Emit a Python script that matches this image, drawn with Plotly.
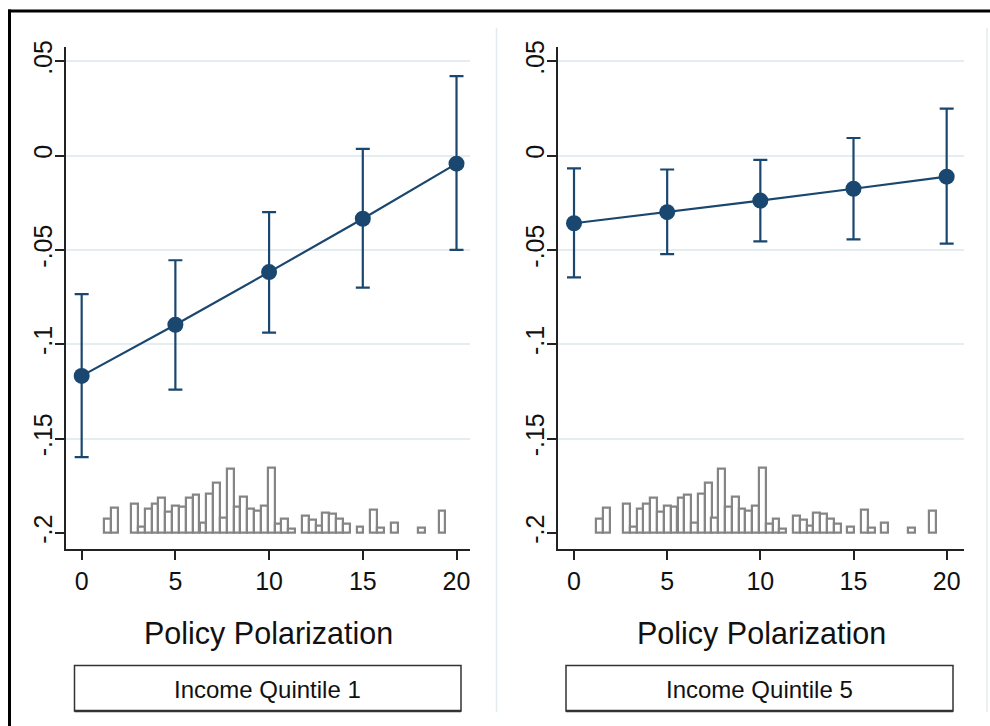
import plotly.graph_objects as go

# ---------------- data ----------------
x_vals = [0, 5, 10, 15, 20]

q1_est = [-0.1168, -0.0897, -0.0618, -0.0335, -0.0043]
q1_hi = [-0.0735, -0.0555, -0.0300, 0.0035, 0.0421]
q1_lo = [-0.1599, -0.1241, -0.0939, -0.0700, -0.0500]

q5_est = [-0.0359, -0.0300, -0.0239, -0.0176, -0.0112]
q5_hi = [-0.0068, -0.0074, -0.0023, 0.0093, 0.0249]
q5_lo = [-0.0646, -0.0523, -0.0455, -0.0444, -0.0467]

# histogram of policy polarization (bin centres, percent of observations)
hist_centers = [1.36, 1.73, 2.82, 3.19, 3.55, 3.91, 4.28, 4.64, 5.01, 5.37,
                5.74, 6.10, 6.47, 6.83, 7.20, 7.56, 7.93, 8.29, 8.65, 9.02,
                9.38, 9.75, 10.11, 10.48, 10.84, 11.21, 11.94, 12.30, 12.67,
                13.03, 13.40, 13.76, 14.12, 14.85, 15.58, 15.95, 16.68, 18.13,
                19.23]
hist_pct = [1.46, 2.50, 2.90, 0.66, 2.46, 2.90, 3.60, 2.10, 2.70, 2.60,
            3.56, 3.86, 1.06, 3.96, 5.10, 1.56, 6.46, 2.60, 3.70, 2.40,
            2.23, 2.70, 6.56, 0.90, 1.40, 0.40, 1.70, 1.30, 0.70,
            2.00, 1.90, 1.46, 0.96, 0.60, 2.30, 0.56, 1.00, 0.56,
            2.20]
bin_width = 0.3646

y_tickvals = [-0.2, -0.15, -0.1, -0.05, 0, 0.05]
y_ticktext = ["-.2", "-.15", "-.1", "-.05", "0", ".05"]
grid_vals = [-0.15, -0.1, -0.05, 0, 0.05]
x_tickvals = [0, 5, 10, 15, 20]

panel_labels = ["Income Quintile 1", "Income Quintile 5"]
x_title = "Policy Polarization"

# ---------------- style ----------------
W, H = 990, 726
FONT = "Liberation Sans, Arial, Helvetica, sans-serif"
NAVY = "#1a476f"
GRID = "#e4edf0"
AX = "#222222"
HIST = "#858585"

def px(v):
    return v / W

def py(v):
    return (H - v) / H

y_range = [-0.2088, 0.0577]
hist_range = [-1.67, 49.03]
y_dom = [py(548), py(41)]
panels = [
    dict(dom=[px(66), px(470)], xr=[-0.836, 20.72], est=q1_est, hi=q1_hi, lo=q1_lo,
         box=(74.5, 461)),
    dict(dom=[px(558), px(964)], xr=[-0.859, 20.93], est=q5_est, hi=q5_hi, lo=q5_lo,
         box=(566, 953)),
]

fig = go.Figure()
layout = dict(width=W, height=H, autosize=False,
              margin=dict(l=0, r=0, t=0, b=0),
              paper_bgcolor="white", plot_bgcolor="rgba(0,0,0,0)",
              showlegend=False, font=dict(family=FONT, color="#111111"))

shapes = []
annotations = []

for i, p in enumerate(panels):
    xa = "x" if i == 0 else "x2"
    ya = "y" if i == 0 else "y2"
    yh = "y3" if i == 0 else "y4"
    yg = "y5" if i == 0 else "y6"
    xkey = "xaxis" if i == 0 else "xaxis2"
    ykey = "yaxis" if i == 0 else "yaxis2"
    hkey = "yaxis3" if i == 0 else "yaxis4"
    gkey = "yaxis5" if i == 0 else "yaxis6"

    # grid-only overlay axis
    fig.add_trace(go.Scatter(x=[], y=[], xaxis=xa, yaxis=yg, hoverinfo="skip"))
    # histogram
    fig.add_trace(go.Bar(x=hist_centers, y=hist_pct, width=bin_width,
                         xaxis=xa, yaxis=yh,
                         marker=dict(color="white", line=dict(color=HIST, width=2.2)),
                         hoverinfo="skip"))
    # estimates with CIs
    err_plus = [h - e for h, e in zip(p["hi"], p["est"])]
    err_minus = [e - l for e, l in zip(p["est"], p["lo"])]
    fig.add_trace(go.Scatter(x=x_vals, y=p["est"], xaxis=xa, yaxis=ya,
                             mode="lines+markers",
                             line=dict(color=NAVY, width=2.2),
                             marker=dict(color=NAVY, size=16),
                             error_y=dict(type="data", symmetric=False,
                                          array=err_plus, arrayminus=err_minus,
                                          color=NAVY, thickness=2.2, width=7)))

    layout[xkey] = dict(domain=p["dom"], range=p["xr"], anchor=ya,
                        tickvals=x_tickvals, ticks="outside", ticklen=9,
                        tickwidth=1.5, tickcolor=AX, showline=True,
                        linecolor=AX, linewidth=1.5, showgrid=False,
                        zeroline=False, tickfont=dict(size=25, family=FONT),
                        fixedrange=True)
    layout[ykey] = dict(domain=y_dom, range=y_range, anchor=xa,
                        tickvals=y_tickvals, ticktext=y_ticktext,
                        tickangle=-90, ticks="outside", ticklen=9,
                        tickwidth=1.5, tickcolor=AX, showline=True,
                        linecolor=AX, linewidth=1.5, showgrid=False,
                        zeroline=False, tickfont=dict(size=25, family=FONT),
                        ticklabelstandoff=-7,
                        fixedrange=True)
    layout[hkey] = dict(overlaying=ya, range=hist_range, visible=False,
                        fixedrange=True)
    layout[gkey] = dict(overlaying=ya, range=y_range, tickvals=grid_vals,
                        showgrid=True, gridcolor=GRID, gridwidth=1.5,
                        showticklabels=False, ticks="", showline=False,
                        zeroline=False, fixedrange=True)

    cx = (p["dom"][0] + p["dom"][1]) / 2
    annotations.append(dict(text=x_title, xref="paper", yref="paper",
                            x=cx, y=py(633), xanchor="center", yanchor="middle",
                            showarrow=False,
                            font=dict(size=30.5, family=FONT, color="#111111")))
    bx0, bx1 = p["box"]
    shapes.append(dict(type="rect", xref="paper", yref="paper",
                       x0=px(bx0), x1=px(bx1), y0=py(711), y1=py(665),
                       line=dict(color="#333333", width=1.5),
                       fillcolor="white", layer="below"))
    shapes.append(dict(type="line", xref="paper", yref="paper",
                       x0=px(bx0), x1=px(bx1), y0=py(711), y1=py(711),
                       line=dict(color="#333333", width=2.5)))
    annotations.append(dict(text=panel_labels[i], xref="paper", yref="paper",
                            x=px((bx0 + bx1) / 2), y=py(689),
                            xanchor="center", yanchor="middle", showarrow=False,
                            font=dict(size=24, family=FONT, color="#111111")))

# panel separators
for sx in (496.5, 987):
    shapes.append(dict(type="line", xref="paper", yref="paper",
                       x0=px(sx), x1=px(sx), y0=py(712), y1=py(22),
                       line=dict(color="#e2ecef", width=1.5)))
# outer border (top & left)
shapes.append(dict(type="line", xref="paper", yref="paper",
                   x0=px(8), x1=1, y0=py(5), y1=py(5),
                   line=dict(color="black", width=3)))
shapes.append(dict(type="line", xref="paper", yref="paper",
                   x0=px(9.5), x1=px(9.5), y0=0, y1=py(3.5),
                   line=dict(color="black", width=3)))

layout["shapes"] = shapes
layout["annotations"] = annotations
layout["bargap"] = 0
fig.update_layout(**layout)

fig.write_html("out.html", config={"displayModeBar": False},
               post_script="document.body.style.margin='0';"
                           "document.body.style.overflow='hidden';")
